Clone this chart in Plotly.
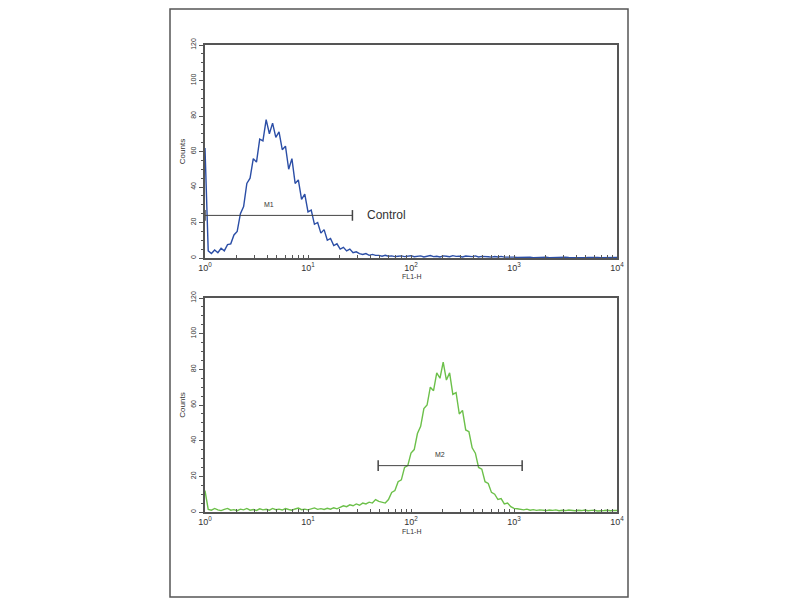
import plotly.graph_objects as go
from plotly.subplots import make_subplots

# channel numbers (1024 channels over 4 decades, 256 per decade), every 8th channel
channels = list(range(0, 1025, 8))

# blue histogram (Control)
control_counts = [
    62, 4, 2.5, 4.5, 3, 5.5, 4, 7.5, 8, 13, 15, 25, 29, 42, 45, 56,
    54, 67, 66, 78, 70, 76, 68, 71, 61, 63, 50, 56, 42, 44, 33, 36,
    26, 27, 19, 20, 14, 16, 10, 11, 7, 8, 5, 6, 4, 5, 3, 3.5,
    2.5, 2, 2.5, 1.5, 2, 1.5, 1.5, 1, 1.5, 1, 1.2, 0.8, 1, 1.2, 0.8, 1,
    1.3, 0.7, 1, 1.2, 0.6, 1, 1.4, 0.8, 1, 0.6, 1.2, 1, 0.7, 1.3, 0.9, 1,
    0.6, 1.1, 1, 0.8, 1.2, 0.6, 0.9, 1, 0.7, 0.5, 0.8, 0.6, 0.9, 0.5, 0.6, 0.4,
    0.5, 0.3, 0.4, 0.2, 0.3, 0.4, 0.2, 0.3, 0.3, 0.2, 0.4, 0.2, 0.3, 0.2, 0.3, 0.2,
    0.4, 0.3, 0.2, 0.3, 0.2, 0.3, 0.2, 0.3, 0.4, 0.2, 0.3, 0.2, 0.3, 0.2, 0.3, 0.2,
    0.3,
]

# green histogram (sample)
sample_counts = [
    12, 1.5, 1, 2, 1.2, 0.8, 1.5, 2, 1, 1.3, 0.7, 1.6, 1.2, 2, 1, 1.4,
    0.9, 1.8, 1.2, 1.5, 1, 2, 1.3, 1.6, 1.1, 1.9, 1.4, 1, 1.7, 2.2, 1.3, 1.6,
    1.2, 1.8, 2.3, 1.5, 1.9, 1.4, 2.1, 1.6, 2.4, 1.8, 2.5, 3.5, 3, 4, 3.5, 4.5,
    3.8, 5, 4.5, 5.5, 5, 7, 6, 5.5, 5, 7, 11, 12, 17, 18, 25, 26,
    33, 35, 44, 48, 58, 60, 70, 68, 78, 75, 84, 74, 78, 66, 67, 55,
    57, 46, 45, 36, 33, 25, 24, 17, 16, 11, 10, 7, 7.5, 4.5, 5, 3,
    2, 1.8, 1.5, 1.2, 1.6, 1, 1.3, 0.9, 1.2, 1, 0.8, 1.1, 0.9, 1.2, 0.7, 1,
    0.8, 1.1, 0.9, 0.7, 1, 0.8, 1.1, 0.7, 0.9, 1, 0.6, 0.9, 0.8, 1, 0.7, 0.9,
    0.8,
]

# marker gates: (start, end, height)
m1_gate = [1, 27, 24]
m2_gate = [48, 1200, 26]

decade_vals = [1, 10, 100, 1000, 10000]
decade_text = ["10<sup>0</sup>", "10<sup>1</sup>", "10<sup>2</sup>", "10<sup>3</sup>", "10<sup>4</sup>"]
count_ticks = [0, 20, 40, 60, 80, 100, 120]

fl1 = [10 ** (c / 256) for c in channels]

fig = make_subplots(rows=2, cols=1)

fig.add_trace(go.Scatter(x=fl1, y=control_counts, mode="lines",
                         line=dict(color="#2b4ea6", width=1.4)), row=1, col=1)
fig.add_trace(go.Scatter(x=fl1, y=sample_counts, mode="lines",
                         line=dict(color="#6cc04a", width=1.4)), row=2, col=1)

# gate bars with end caps
for gate, r in [(m1_gate, 1), (m2_gate, 2)]:
    x0, x1, h = gate
    fig.add_trace(go.Scatter(x=[x0, x1], y=[h, h], mode="lines",
                             line=dict(color="#444", width=1)), row=r, col=1)
    for xe in (x0, x1):
        fig.add_trace(go.Scatter(x=[xe, xe], y=[h - 3, h + 3], mode="lines",
                                 line=dict(color="#444", width=1.5)), row=r, col=1)

font_name = "Liberation Sans, Arial"
axis_font = dict(family=font_name, size=9, color="#333")

fig.update_xaxes(type="log", range=[0, 4], tickvals=decade_vals, ticktext=decade_text,
                 showline=True, mirror=True, linecolor="#555", linewidth=1.5,
                 ticks="inside", ticklen=3, tickcolor="#555",
                 minor=dict(ticks="inside", ticklen=3, tickcolor="#555", dtick="D1"),
                 showgrid=False, zeroline=False, tickfont=axis_font, automargin=False)
fig.update_yaxes(range=[0, 120], tickvals=count_ticks, tickangle=-90,
                 showline=True, mirror=True, linecolor="#555", linewidth=1.5,
                 ticks="outside", ticklen=4, tickcolor="#555",
                 minor=dict(ticks="outside", ticklen=2, tickcolor="#555", dtick=5),
                 showgrid=False, zeroline=False, tickfont=dict(family=font_name, size=7, color="#333"),
                 title=dict(text="Counts", font=dict(family=font_name, size=8, color="#333"), standoff=4),
                 automargin=False)

# the page adds an 8px body margin, so positions are the reference pixels minus 8
fig.update_layout(
    width=800, height=600,
    margin=dict(l=0, r=0, t=0, b=0),
    paper_bgcolor="white", plot_bgcolor="white",
    showlegend=False,
    xaxis=dict(domain=[197 / 800, 609 / 800], anchor="y"),
    xaxis2=dict(domain=[197 / 800, 609 / 800], anchor="y2"),
    yaxis=dict(domain=[1 - 250 / 600, 1 - 37 / 600], anchor="x"),
    yaxis2=dict(domain=[1 - 504 / 600, 1 - 290 / 600], anchor="x2"),
)

# outer frame
fig.add_shape(type="rect", xref="paper", yref="paper",
              x0=162 / 800, x1=620 / 800, y0=11 / 600, y1=599 / 600,
              line=dict(color="#555", width=1.5))

small = dict(family=font_name, size=7, color="#333")
fig.add_annotation(x=0.5, y=-0.115, xref="x domain", yref="y domain", text="FL1-H",
                   showarrow=False, font=small, xanchor="center")
fig.add_annotation(x=0.5, y=-0.115, xref="x2 domain", yref="y2 domain", text="FL1-H",
                   showarrow=False, font=small, xanchor="center")
fig.add_annotation(x=0.62, y=30, xref="x", yref="y", text="M1",
                   showarrow=False, font=small)
fig.add_annotation(x=2.28, y=32, xref="x2", yref="y2", text="M2",
                   showarrow=False, font=small)
fig.add_annotation(x=1.55, y=24, xref="x", yref="y", text="Control", xanchor="left",
                   showarrow=False, font=dict(family=font_name, size=12, color="#333"))

fig.write_html("out.html")
